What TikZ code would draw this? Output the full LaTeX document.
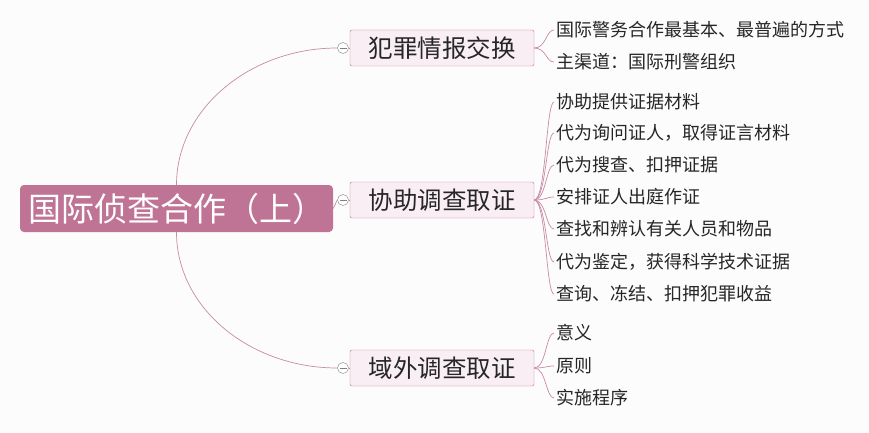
\documentclass[tikz,border=0pt]{standalone}
\usepackage{fontspec}
\setmainfont{Noto Sans CJK SC}
\usetikzlibrary{positioning}
\definecolor{rootpink}{HTML}{BF7395}
\definecolor{boxpink}{HTML}{F9EEF4}
\definecolor{linepink}{HTML}{C98AA6}
\definecolor{bgwhite}{HTML}{FCFCFC}
\tikzset{
    rootnode/.style={
        fill=rootpink,
        text=white,
        rounded corners=4pt,
        minimum width=313pt,
        minimum height=47pt,
        font=\fontsize{33}{35}\selectfont,
        inner sep=0pt
    },
    branchnode/.style={
        draw=rootpink,
        fill=boxpink,
        rounded corners=2pt,
        minimum width=184pt,
        minimum height=36pt,
        font=\fontsize{24.5}{26}\selectfont,
        text=black!85,
        inner sep=0pt
    },
    leafnode/.style={
        anchor=west,
        font=\fontsize{18}{20}\selectfont,
        text=black!85,
        inner sep=2pt
    },
    toggle/.style={
        circle,
        draw=gray,
        fill=white,
        minimum size=11pt,
        inner sep=0pt
    },
    link/.style={
        draw=linepink,
        line width=0.7pt
    }
}

\begin{document}
\begin{tikzpicture}[x=1pt,y=-1pt]
\fill[bgwhite] (0,0) rectangle (869,433);
\useasboundingbox (0,0) rectangle (869,433);

\node[rootnode] (root) at (176.5,208.5) {国际侦查合作（上）};

\node[branchnode] (crime) at (442,48) {犯罪情报交换};
\node[branchnode] (assist) at (442,200) {协助调查取证};
\node[branchnode] (abroad) at (442,368) {域外调查取证};

% toggles
\node[toggle] (t1) at (343,48) {};
\node[toggle] (t2) at (343,200) {};
\node[toggle] (t3) at (343,368) {};

% root connectors
\draw[link] (root.north) .. controls (176.5,109) and (250,48) .. (t1.west);
\draw[link] (root.east) -- (t2.west);
\draw[link] (root.south) .. controls (176.5,308) and (250,368) .. (t3.west);
\draw[link] (t1.east) -- (crime.west);
\draw[link] (t2.east) -- (assist.west);
\draw[link] (t3.east) -- (abroad.west);
\foreach \t in {t1,t2,t3}{
    \draw[gray, line width=0.7pt] ([xshift=-3.5pt]\t.center) -- ([xshift=3.5pt]\t.center);
}

% leaves
\node[leafnode] (c1) at (554,30) {国际警务合作最基本、最普遍的方式};
\node[leafnode] (c2) at (554,62) {主渠道：国际刑警组织};

\node[leafnode] (a1) at (554,102) {协助提供证据材料};
\node[leafnode] (a2) at (554,133) {代为询问证人，取得证言材料};
\node[leafnode] (a3) at (554,165) {代为搜查、扣押证据};
\node[leafnode] (a4) at (554,197) {安排证人出庭作证};
\node[leafnode] (a5) at (554,229) {查找和辨认有关人员和物品};
\node[leafnode] (a6) at (554,262) {代为鉴定，获得科学技术证据};
\node[leafnode] (a7) at (554,294) {查询、冻结、扣押犯罪收益};

\node[leafnode] (b1) at (554,333) {意义};
\node[leafnode] (b2) at (554,366) {原则};
\node[leafnode] (b3) at (554,398) {实施程序};

\foreach \l in {c1,c2}{
    \draw[link] (crime.east) .. controls +(12,0) and +(-8,0) .. (\l.west);
}
\foreach \l in {a1,a2,a3,a4,a5,a6,a7}{
    \draw[link] (assist.east) .. controls +(12,0) and +(-8,0) .. (\l.west);
}
\foreach \l in {b1,b2,b3}{
    \draw[link] (abroad.east) .. controls +(12,0) and +(-8,0) .. (\l.west);
}
\end{tikzpicture}
\end{document}
